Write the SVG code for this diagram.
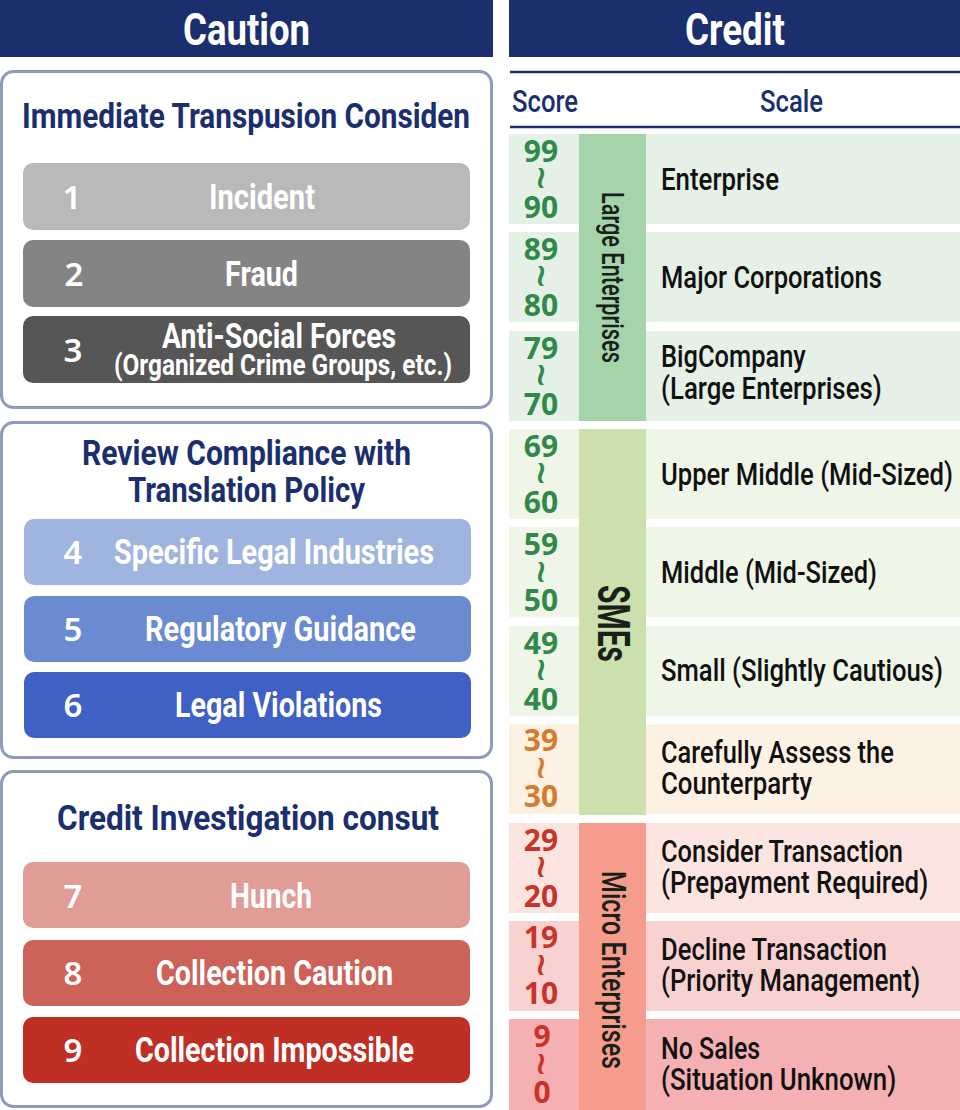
<svg xmlns="http://www.w3.org/2000/svg" width="960" height="1110" viewBox="0 0 960 1110">
<style>
text{font-family:Roboto,"Liberation Sans",sans-serif}
.hd{fill:#1b2f6e}
.ht{fill:#fff;font-size:44px;font-weight:700}
.panel{fill:#fff;stroke:#8f9bb8;stroke-width:3}
.pt{fill:#1b2f6e;font-size:35px;font-weight:700}
.num{fill:#fff;font-family:"Noto Sans",sans-serif;font-size:33px;font-weight:600;text-anchor:middle}
.bt{fill:#fff;font-size:35px;font-weight:700}
.sub{font-size:29px}
.col{fill:#1b2f6e;font-size:32px;font-weight:500}
.rule{stroke:#1b2f6e;stroke-width:2.5}
.sc{font-family:"Noto Sans",sans-serif;font-size:30px;font-weight:700;text-anchor:middle}
.til{font-family:"Noto Sans",sans-serif;font-size:42px;font-weight:500;text-anchor:middle}
.lab{fill:#111;font-size:32px;font-weight:500}
.vt{fill:#17211a;font-size:31px;font-weight:500}
.g{fill:#2f8a4a}.o{fill:#d67a2c}.r{fill:#c8332a}
</style>
<g id="caution-header"><rect class="hd" x="0" y="0" width="493" height="57"/><text class="ht" x="183" y="45" textLength="127" lengthAdjust="spacingAndGlyphs">Caution</text></g>
<g id="credit-header"><rect class="hd" x="509" y="0" width="451" height="57"/><text class="ht" x="685" y="45" textLength="100" lengthAdjust="spacingAndGlyphs">Credit</text></g>

<g id="panel-1"><rect class="panel" x="1.5" y="71.5" width="490" height="336" rx="12"/>
<text class="pt" x="22" y="128" textLength="448" lengthAdjust="spacingAndGlyphs">Immediate Transpusion Considen</text></g>
<g id="item-1"><rect x="23" y="163" width="447" height="67" rx="10" fill="#b9b9b9"/><text class="num" x="72" y="209">1</text><text class="bt" x="209" y="209" textLength="106" lengthAdjust="spacingAndGlyphs">Incident</text></g>
<g id="item-2"><rect x="23" y="240" width="447" height="67" rx="10" fill="#848484"/><text class="num" x="74" y="286">2</text><text class="bt" x="225" y="286" textLength="73" lengthAdjust="spacingAndGlyphs">Fraud</text></g>
<g id="item-3"><rect x="23" y="316" width="447" height="67" rx="10" fill="#565656"/><text class="num" x="73" y="362">3</text><text class="bt" x="162" y="348" textLength="234" lengthAdjust="spacingAndGlyphs">Anti-Social Forces</text><text class="bt sub" x="114" y="375" textLength="338" lengthAdjust="spacingAndGlyphs">(Organized Crime Groups, etc.)</text></g>

<g id="panel-2"><rect class="panel" x="1.5" y="422.5" width="490" height="335" rx="12"/>
<text class="pt" x="82" y="465" textLength="329" lengthAdjust="spacingAndGlyphs">Review Compliance with</text><text class="pt" x="128" y="502" textLength="237" lengthAdjust="spacingAndGlyphs">Translation Policy</text></g>
<g id="item-4"><rect x="24" y="519" width="447" height="66" rx="10" fill="#a0b4e0"/><text class="num" x="73" y="564">4</text><text class="bt" x="114" y="564" textLength="320" lengthAdjust="spacingAndGlyphs">Specific Legal Industries</text></g>
<g id="item-5"><rect x="24" y="596" width="447" height="66" rx="10" fill="#6a8ad2"/><text class="num" x="73" y="641">5</text><text class="bt" x="145" y="641" textLength="271" lengthAdjust="spacingAndGlyphs">Regulatory Guidance</text></g>
<g id="item-6"><rect x="24" y="672" width="447" height="66" rx="10" fill="#3f60c4"/><text class="num" x="73" y="717">6</text><text class="bt" x="175" y="717" textLength="207" lengthAdjust="spacingAndGlyphs">Legal Violations</text></g>

<g id="panel-3"><rect class="panel" x="1.5" y="771.5" width="490" height="335" rx="12"/>
<text class="pt" x="57" y="830" textLength="382" lengthAdjust="spacingAndGlyphs">Credit Investigation consut</text></g>
<g id="item-7"><rect x="23" y="862" width="447" height="66" rx="10" fill="#e09c96"/><text class="num" x="73" y="908">7</text><text class="bt" x="230" y="908" textLength="82" lengthAdjust="spacingAndGlyphs">Hunch</text></g>
<g id="item-8"><rect x="23" y="940" width="447" height="66" rx="10" fill="#cc6258"/><text class="num" x="73" y="985">8</text><text class="bt" x="156" y="985" textLength="237" lengthAdjust="spacingAndGlyphs">Collection Caution</text></g>
<g id="item-9"><rect x="23" y="1017" width="447" height="66" rx="10" fill="#bf2f26"/><text class="num" x="73" y="1062">9</text><text class="bt" x="135" y="1062" textLength="279" lengthAdjust="spacingAndGlyphs">Collection Impossible</text></g>

<g id="table-head"><line class="rule" x1="510" y1="72" x2="960" y2="72"/><line class="rule" x1="510" y1="127" x2="960" y2="127"/>
<text class="col" x="512" y="112" textLength="66" lengthAdjust="spacingAndGlyphs">Score</text><text class="col" x="760" y="112" textLength="63" lengthAdjust="spacingAndGlyphs">Scale</text></g>

<g id="row-99"><rect x="509" y="134" width="451" height="90" fill="#e5f0e6"/><text class="sc g" x="541" y="162">99</text><text class="til g" transform="translate(541 178) rotate(90)" y="15">~</text><text class="sc g" x="541" y="218">90</text><g transform="translate(661 0) scale(.8 1)"><text class="lab" y="190" textLength="147.5" lengthAdjust="spacingAndGlyphs">Enterprise</text></g></g>
<g id="row-89"><rect x="509" y="232" width="451" height="90" fill="#e5f0e6"/><text class="sc g" x="541" y="260">89</text><text class="til g" transform="translate(541 276) rotate(90)" y="15">~</text><text class="sc g" x="541" y="316">80</text><g transform="translate(661 0) scale(.8 1)"><text class="lab" y="288" textLength="276" lengthAdjust="spacingAndGlyphs">Major Corporations</text></g></g>
<g id="row-79"><rect x="509" y="331" width="451" height="90" fill="#e5f0e6"/><text class="sc g" x="541" y="359">79</text><text class="til g" transform="translate(541 375) rotate(90)" y="15">~</text><text class="sc g" x="541" y="415">70</text><g transform="translate(661 0) scale(.8 1)"><text class="lab" y="367" textLength="181" lengthAdjust="spacingAndGlyphs">BigCompany</text><text class="lab" y="399" textLength="276" lengthAdjust="spacingAndGlyphs">(Large Enterprises)</text></g></g>
<g id="row-69"><rect x="509" y="429" width="451" height="90" fill="#eff6e8"/><text class="sc g" x="541" y="457">69</text><text class="til g" transform="translate(541 473) rotate(90)" y="15">~</text><text class="sc g" x="541" y="513">60</text><g transform="translate(661 0) scale(.8 1)"><text class="lab" y="485" textLength="365" lengthAdjust="spacingAndGlyphs">Upper Middle (Mid-Sized)</text></g></g>
<g id="row-59"><rect x="509" y="527" width="451" height="90" fill="#eff6e8"/><text class="sc g" x="541" y="555">59</text><text class="til g" transform="translate(541 572) rotate(90)" y="15">~</text><text class="sc g" x="541" y="611">50</text><g transform="translate(661 0) scale(.8 1)"><text class="lab" y="583" textLength="270" lengthAdjust="spacingAndGlyphs">Middle (Mid-Sized)</text></g></g>
<g id="row-49"><rect x="509" y="626" width="451" height="90" fill="#eff6e8"/><text class="sc g" x="541" y="654">49</text><text class="til g" transform="translate(541 670) rotate(90)" y="15">~</text><text class="sc g" x="541" y="710">40</text><g transform="translate(661 0) scale(.8 1)"><text class="lab" y="681" textLength="352.5" lengthAdjust="spacingAndGlyphs">Small (Slightly Cautious)</text></g></g>
<g id="row-39"><rect x="509" y="724" width="451" height="90" fill="#fdf1e3"/><text class="sc o" x="541" y="751">39</text><text class="til o" transform="translate(541 768) rotate(90)" y="15">~</text><text class="sc o" x="541" y="807">30</text><g transform="translate(661 0) scale(.8 1)"><text class="lab" y="763" textLength="291" lengthAdjust="spacingAndGlyphs">Carefully Assess the</text><text class="lab" y="794" textLength="189" lengthAdjust="spacingAndGlyphs">Counterparty</text></g></g>
<g id="row-29"><rect x="509" y="823" width="451" height="90" fill="#fce5e0"/><text class="sc r" x="541" y="851">29</text><text class="til r" transform="translate(541 867) rotate(90)" y="15">~</text><text class="sc r" x="541" y="907">20</text><g transform="translate(661 0) scale(.8 1)"><text class="lab" y="862" textLength="302.5" lengthAdjust="spacingAndGlyphs">Consider Transaction</text><text class="lab" y="893" textLength="334" lengthAdjust="spacingAndGlyphs">(Prepayment Required)</text></g></g>
<g id="row-19"><rect x="509" y="921" width="451" height="90" fill="#f8d2d1"/><text class="sc r" x="541" y="948">19</text><text class="til r" transform="translate(541 965) rotate(90)" y="15">~</text><text class="sc r" x="541" y="1004">10</text><g transform="translate(661 0) scale(.8 1)"><text class="lab" y="960" textLength="282.5" lengthAdjust="spacingAndGlyphs">Decline Transaction</text><text class="lab" y="991" textLength="324" lengthAdjust="spacingAndGlyphs">(Priority Management)</text></g></g>
<g id="row-9"><rect x="509" y="1019" width="451" height="91" fill="#f4b0b2"/><text class="sc r" x="542" y="1047">9</text><text class="til r" transform="translate(541 1064) rotate(90)" y="15">~</text><text class="sc r" x="542" y="1103">0</text><g transform="translate(661 0) scale(.8 1)"><text class="lab" y="1059" textLength="124" lengthAdjust="spacingAndGlyphs">No Sales</text><text class="lab" y="1090" textLength="294" lengthAdjust="spacingAndGlyphs">(Situation Unknown)</text></g></g>

<g id="band-large"><rect x="579" y="134" width="67" height="287" fill="#a5d3aa"/><text class="vt" transform="translate(602 192) rotate(90) scale(.85 1)" textLength="201" lengthAdjust="spacingAndGlyphs">Large Enterprises</text></g>
<g id="band-sme"><rect x="579" y="429" width="67" height="386" fill="#cbe0ac"/><text class="vt" transform="translate(598 585) rotate(90) scale(.85 1)" style="font-size:44px;font-weight:700" textLength="90.6" lengthAdjust="spacingAndGlyphs">SMEs</text></g>
<g id="band-micro"><rect x="579" y="823" width="67" height="287" fill="#f59c8c"/><text class="vt" transform="translate(602 871) rotate(90) scale(.85 1)" style="font-size:34px" textLength="233" lengthAdjust="spacingAndGlyphs">Micro Enterprises</text></g>
</svg>
